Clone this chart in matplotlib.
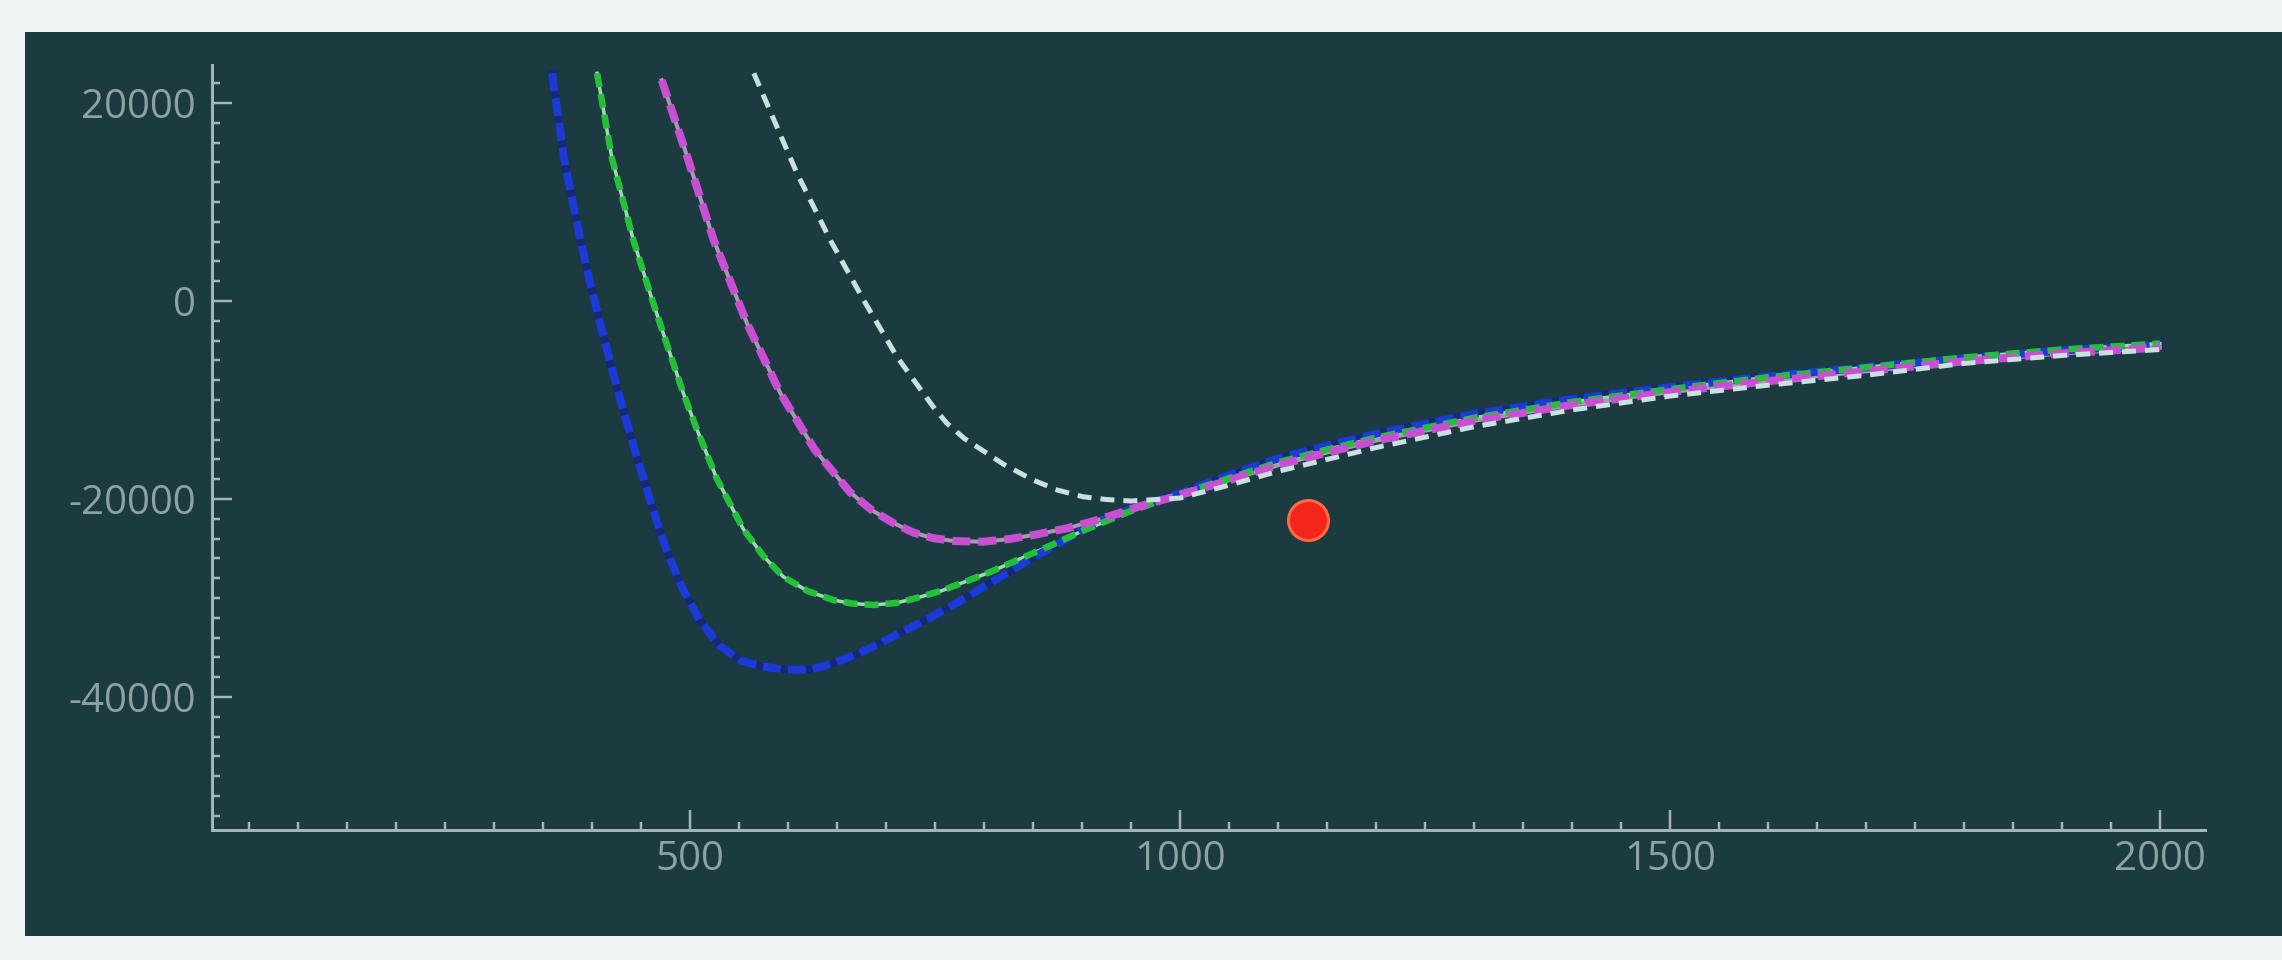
import matplotlib
matplotlib.use("Agg")
import matplotlib.pyplot as plt
from matplotlib.patches import Rectangle
from matplotlib.ticker import MultipleLocator

plt.rcParams['font.family'] = ['Open Sans', 'DejaVu Sans']
plt.rcParams['axes.unicode_minus'] = False
plt.rcParams['lines.scale_dashes'] = False

# Data
blue_x = [359, 372, 388, 398, 410, 422, 434, 446, 469, 476, 492, 510, 530, 551, 573, 595,
          610, 625, 646, 672, 697, 723, 748, 774, 799, 825, 850, 876, 901, 925, 950, 975,
          1000, 1050, 1100, 1150, 1200, 1300, 1400, 1500, 1600, 1700, 1800, 1900, 2000]
blue_y = [23000, 14000, 6200, 1800, -3000, -7500, -11800, -15900, -23200, -25200, -29000,
          -32300, -34800, -36300, -36900, -37200, -37250, -37150, -36600, -35600, -34400,
          -33100, -31800, -30400, -28900, -27400, -25900, -24500, -23100, -22000, -21000,
          -20200, -19400, -17600, -15900, -14600, -13400, -11400, -9900, -8700, -7600,
          -6700, -5800, -5000, -4400]

green_x = [405, 420, 442, 460, 476, 493, 507, 527, 554, 575, 595, 620, 646, 665, 687, 710,
           731, 757, 782, 808, 833, 870, 901, 950, 1000, 1050, 1100, 1150, 1200, 1300, 1400,
           1500, 1600, 1700, 1800, 1900, 2000]
green_y = [23000, 14500, 6160, 500, -4300, -9300, -13000, -17900, -23000, -25800, -27850,
           -29300, -30200, -30550, -30700, -30500, -30000, -29250, -28300, -27300, -26200,
           -24600, -23200, -21200, -19500, -17900, -16300, -15000, -13800, -11800, -10200,
           -8900, -7700, -6700, -5700, -4900, -4300]

magenta_x = [471, 497, 524, 558, 592, 627, 663, 685, 707, 728, 748, 770, 799, 825, 850,
             885, 918, 960, 1000, 1050, 1100, 1150, 1200, 1300, 1400, 1500, 1600, 1700,
             1800, 1900, 2000]
magenta_y = [22300, 14580, 6160, -2250, -9300, -15000, -19300, -21100, -22400, -23400,
             -23950, -24250, -24310, -24050, -23640, -22950, -22050, -20700, -19600,
             -18100, -16600, -15300, -14100, -12100, -10500, -9200, -8100, -7100, -6100,
             -5300, -4700]

white_x = [565, 609, 643, 677, 711, 748, 762, 780, 797, 820, 850, 875, 901, 925, 950,
           1000, 1050, 1100, 1150, 1200, 1300, 1400, 1500, 1600, 1700, 1800, 1900, 2000]
white_y = [23000, 12900, 6160, 100, -5630, -10680, -12350, -13900, -15000, -16500, -18080,
           -19100, -19770, -20050, -20200, -19900, -18600, -17200, -16000, -14800, -12700,
           -11000, -9600, -8500, -7500, -6300, -5500, -4900]

point_x = [1131]
point_y = [-22120]

panel = '#1c3b41'
spine_col = '#a3b5b6'
label_col = '#8fa1a3'

W, H = 2282, 960
fig = plt.figure(figsize=(W / 100, H / 100), dpi=100, facecolor='#f0f3f4')
fig.patches.append(Rectangle((25 / W, 1 - 936 / H), (W - 25) / W, (936 - 32) / H,
                             transform=fig.transFigure, facecolor=panel, edgecolor='none',
                             zorder=-10))

ax = fig.add_axes([212 / W, 1 - 830 / H, (2205 - 212) / W, (830 - 65) / H])
ax.set_facecolor(panel)
ax.set_zorder(5)

px = 0.72  # points per pixel at dpi 100

# blue: dark solid under blue dashes
ax.plot(blue_x, blue_y, color='#152a70', lw=8 * px, zorder=2)
ax.plot(blue_x, blue_y, color='#1c3ad6', lw=8 * px, dashes=(18 * px, 7 * px), zorder=3)
# green: light thin solid under green dashes
ax.plot(green_x, green_y, color='#9fd8b0', lw=3.5 * px, zorder=2)
ax.plot(green_x, green_y, color='#25c03a', lw=6.5 * px, dashes=(14 * px, 7 * px), zorder=3)
# magenta: greyish thin solid under magenta dashes
ax.plot(magenta_x, magenta_y, color='#a898b2', lw=4 * px, zorder=2)
ax.plot(magenta_x, magenta_y, color='#c94fd2', lw=8 * px, dashes=(18 * px, 8 * px), zorder=3)
# white
ax.plot(white_x, white_y, color='#c9dfe0', lw=5 * px, dashes=(14 * px, 9 * px), zorder=4)

ax.plot(point_x, point_y, 'o', ms=40 * px, color='#f4261b', mec='#ff6a45', mew=3 * px,
        zorder=6)

ax.set_xlim(12, 2046)
ax.set_ylim(-53430, 23840)

ax.xaxis.set_major_locator(MultipleLocator(500))
ax.xaxis.set_minor_locator(MultipleLocator(50))
ax.yaxis.set_major_locator(MultipleLocator(20000))
ax.yaxis.set_minor_locator(MultipleLocator(2000))

for s in ['top', 'right']:
    ax.spines[s].set_visible(False)
for s in ['left', 'bottom']:
    ax.spines[s].set_color(spine_col)
    ax.spines[s].set_linewidth(3 * px)

ax.tick_params(which='both', direction='in', color=spine_col, width=2.5 * px)
ax.tick_params(which='major', length=20 * px, labelsize=29, labelcolor=label_col)
ax.tick_params(which='minor', length=8 * px)
ax.tick_params(axis='y', which='major', pad=16 * px)
ax.tick_params(axis='x', which='major', pad=10 * px)

fig.savefig('out.png', dpi=100, facecolor=fig.get_facecolor())
